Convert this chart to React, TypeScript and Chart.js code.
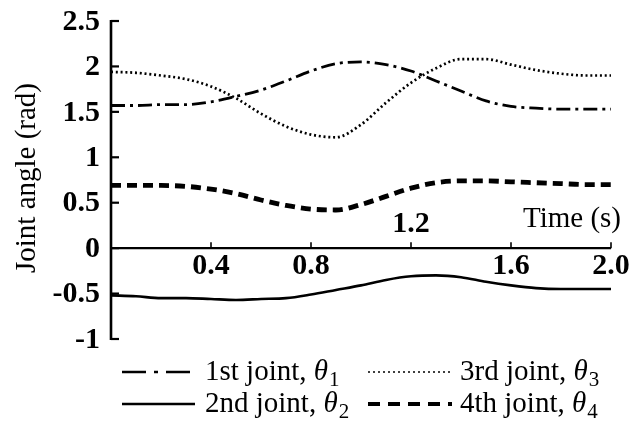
import { useEffect, useRef } from "react";
import { Chart, registerables } from "chart.js";

Chart.register(...registerables);

// ---- data ----
const time = [0, 0.1, 0.2, 0.3, 0.4, 0.5, 0.6, 0.7, 0.8, 0.9, 1.0, 1.1, 1.2, 1.3, 1.4, 1.5, 1.6, 1.7, 1.8, 1.9, 2.0];
const joint1 = [1.57, 1.57, 1.58, 1.58, 1.61, 1.67, 1.74, 1.84, 1.95, 2.03, 2.05, 2.02, 1.95, 1.84, 1.73, 1.62, 1.56, 1.54, 1.53, 1.53, 1.53];
const joint2 = [-0.52, -0.53, -0.55, -0.55, -0.56, -0.57, -0.56, -0.55, -0.51, -0.46, -0.41, -0.35, -0.31, -0.30, -0.32, -0.37, -0.41, -0.44, -0.45, -0.45, -0.45];
const joint3 = [1.94, 1.93, 1.90, 1.86, 1.78, 1.65, 1.48, 1.34, 1.25, 1.22, 1.36, 1.60, 1.82, 1.98, 2.08, 2.08, 2.02, 1.96, 1.92, 1.90, 1.90];
const joint4 = [0.69, 0.69, 0.69, 0.68, 0.65, 0.60, 0.53, 0.47, 0.43, 0.42, 0.48, 0.57, 0.66, 0.72, 0.74, 0.74, 0.73, 0.72, 0.71, 0.70, 0.70];

const seriesNames = ["1st joint", "2nd joint", "3rd joint", "4th joint"];
const seriesSubscripts = ["1", "2", "3", "4"];
const yTicks = [2.5, 2, 1.5, 1, 0.5, 0, -0.5, -1];
const yTickLabels = ["2.5", "2", "1.5", "1", "0.5", "0", "-0.5", "-1"];
const xTicks = [0.4, 0.8, 1.2, 1.6, 2.0];
const xTickLabels = ["0.4", "0.8", "1.2", "1.6", "2.0"];
const xTitle = "Time (s)";
const yTitle = "Joint angle (rad)";

const SERIF = '"Liberation Serif", "Times New Roman", serif';

const toPoints = (vals: number[]) => vals.map((v, i) => ({ x: time[i], y: v }));

const axesPlugin = {
  id: "customAxes",
  afterDraw(chart: any) {
    const { ctx } = chart;
    const xs = chart.scales.x;
    const ys = chart.scales.y;
    const x0 = xs.getPixelForValue(0);
    const x2 = xs.getPixelForValue(2);
    const yTop = ys.getPixelForValue(2.5);
    const yBot = ys.getPixelForValue(-1);
    const yZero = ys.getPixelForValue(0);
    ctx.save();
    ctx.strokeStyle = "#000";
    ctx.fillStyle = "#000";
    ctx.setLineDash([]);

    // y axis
    ctx.lineWidth = 2.6;
    ctx.beginPath();
    ctx.moveTo(x0, yTop - 1);
    ctx.lineTo(x0, yBot + 1);
    ctx.stroke();
    ctx.lineWidth = 2.2;
    yTicks.forEach((v) => {
      const py = ys.getPixelForValue(v);
      ctx.beginPath();
      ctx.moveTo(x0, py);
      ctx.lineTo(x0 + 8, py);
      ctx.stroke();
    });

    // x axis
    ctx.lineWidth = 2.2;
    ctx.beginPath();
    ctx.moveTo(x0, yZero);
    ctx.lineTo(x2, yZero);
    ctx.stroke();
    ctx.lineWidth = 1.6;
    xTicks.forEach((v) => {
      const px = xs.getPixelForValue(v);
      ctx.beginPath();
      ctx.moveTo(px, yZero);
      ctx.lineTo(px, yZero - 6);
      ctx.stroke();
    });

    // y tick labels
    ctx.font = `bold 30px ${SERIF}`;
    ctx.textAlign = "right";
    ctx.textBaseline = "middle";
    yTicks.forEach((v, i) => {
      ctx.fillText(yTickLabels[i], x0 - 11, ys.getPixelForValue(v) + 1);
    });

    // x tick labels (1.2 placed above the axis, clear of the curve)
    ctx.textAlign = "center";
    xTicks.forEach((v, i) => {
      const px = xs.getPixelForValue(v);
      const above = v === 1.2;
      ctx.fillText(xTickLabels[i], px, above ? yZero - 24 : yZero + 18);
    });

    // axis titles
    ctx.font = `29px ${SERIF}`;
    ctx.textAlign = "right";
    ctx.textBaseline = "alphabetic";
    ctx.fillText(xTitle, x2 + 10, yZero - 21);

    ctx.save();
    ctx.translate(35, 178);
    ctx.rotate(-Math.PI / 2);
    ctx.textAlign = "center";
    ctx.fillText(yTitle, 0, 0);
    ctx.restore();

    // legend (2 x 2)
    const order = [0, 2, 1, 3];
    const cols = [
      { sx: 122, ex: 195, tx: 205 },
      { sx: 368, ex: 452, tx: 460 },
    ];
    const rows = [380, 412];
    order.forEach((dsIndex, k) => {
      const col = cols[k % 2];
      const base = rows[Math.floor(k / 2)];
      const ds = chart.data.datasets[dsIndex];
      const ly = base - 8;
      ctx.save();
      ctx.strokeStyle = "#000";
      ctx.lineWidth = ds.legendWidth;
      ctx.setLineDash(ds.legendDash);
      ctx.beginPath();
      ctx.moveTo(col.sx, ly);
      ctx.lineTo(col.ex, ly);
      ctx.stroke();
      ctx.restore();

      ctx.textAlign = "left";
      ctx.textBaseline = "alphabetic";
      ctx.font = `29px ${SERIF}`;
      const txt = seriesNames[dsIndex] + ", ";
      ctx.fillText(txt, col.tx, base);
      let cx = col.tx + ctx.measureText(txt).width;
      ctx.font = `italic 29px ${SERIF}`;
      ctx.fillText("\u03B8", cx, base);
      cx += ctx.measureText("\u03B8").width + 1;
      ctx.font = `21px ${SERIF}`;
      ctx.fillText(seriesSubscripts[dsIndex], cx, base + 6);
    });

    ctx.restore();
  },
};

export default function App() {
  const canvasRef = useRef<HTMLCanvasElement | null>(null);

  useEffect(() => {
    document.body.style.margin = "0";
    const canvas = canvasRef.current;
    if (!canvas) return;
    const common = {
      pointRadius: 0,
      borderColor: "#000",
      backgroundColor: "#000",
      fill: false,
      cubicInterpolationMode: "monotone" as const,
    };
    const chart = new Chart(canvas, {
      type: "line",
      data: {
        datasets: [
          {
            ...common,
            label: seriesNames[0],
            data: toPoints(joint1),
            borderWidth: 2.8,
            borderDash: [14, 5, 3, 5],
            legendWidth: 2.6,
            legendDash: [24, 8, 4, 8],
          } as any,
          {
            ...common,
            label: seriesNames[1],
            data: toPoints(joint2),
            borderWidth: 2.6,
            borderDash: [],
            legendWidth: 2.6,
            legendDash: [],
          } as any,
          {
            ...common,
            label: seriesNames[2],
            data: toPoints(joint3),
            borderWidth: 2.7,
            borderDash: [2, 2.8],
            legendWidth: 1.6,
            legendDash: [2, 3],
          } as any,
          {
            ...common,
            label: seriesNames[3],
            data: toPoints(joint4),
            borderWidth: 4.8,
            borderDash: [10, 6],
            legendWidth: 4,
            legendDash: [12, 8],
          } as any,
        ],
      },
      options: {
        animation: false,
        responsive: false,
        devicePixelRatio: 1,
        layout: { padding: { left: 111, right: 23, top: 21, bottom: 84 } },
        plugins: {
          legend: { display: false },
          tooltip: { enabled: false },
          title: { display: false },
        },
        scales: {
          x: { type: "linear", min: 0, max: 2, display: false },
          y: { type: "linear", min: -1, max: 2.5, display: false },
        },
      },
      plugins: [axesPlugin],
    });
    return () => chart.destroy();
  }, []);

  return (
    <div style={{ position: "absolute", left: 0, top: 0, width: 634, height: 423, background: "#fff" }}>
      <canvas ref={canvasRef} width={634} height={423} style={{ width: 634, height: 423 }} />
    </div>
  );
}
